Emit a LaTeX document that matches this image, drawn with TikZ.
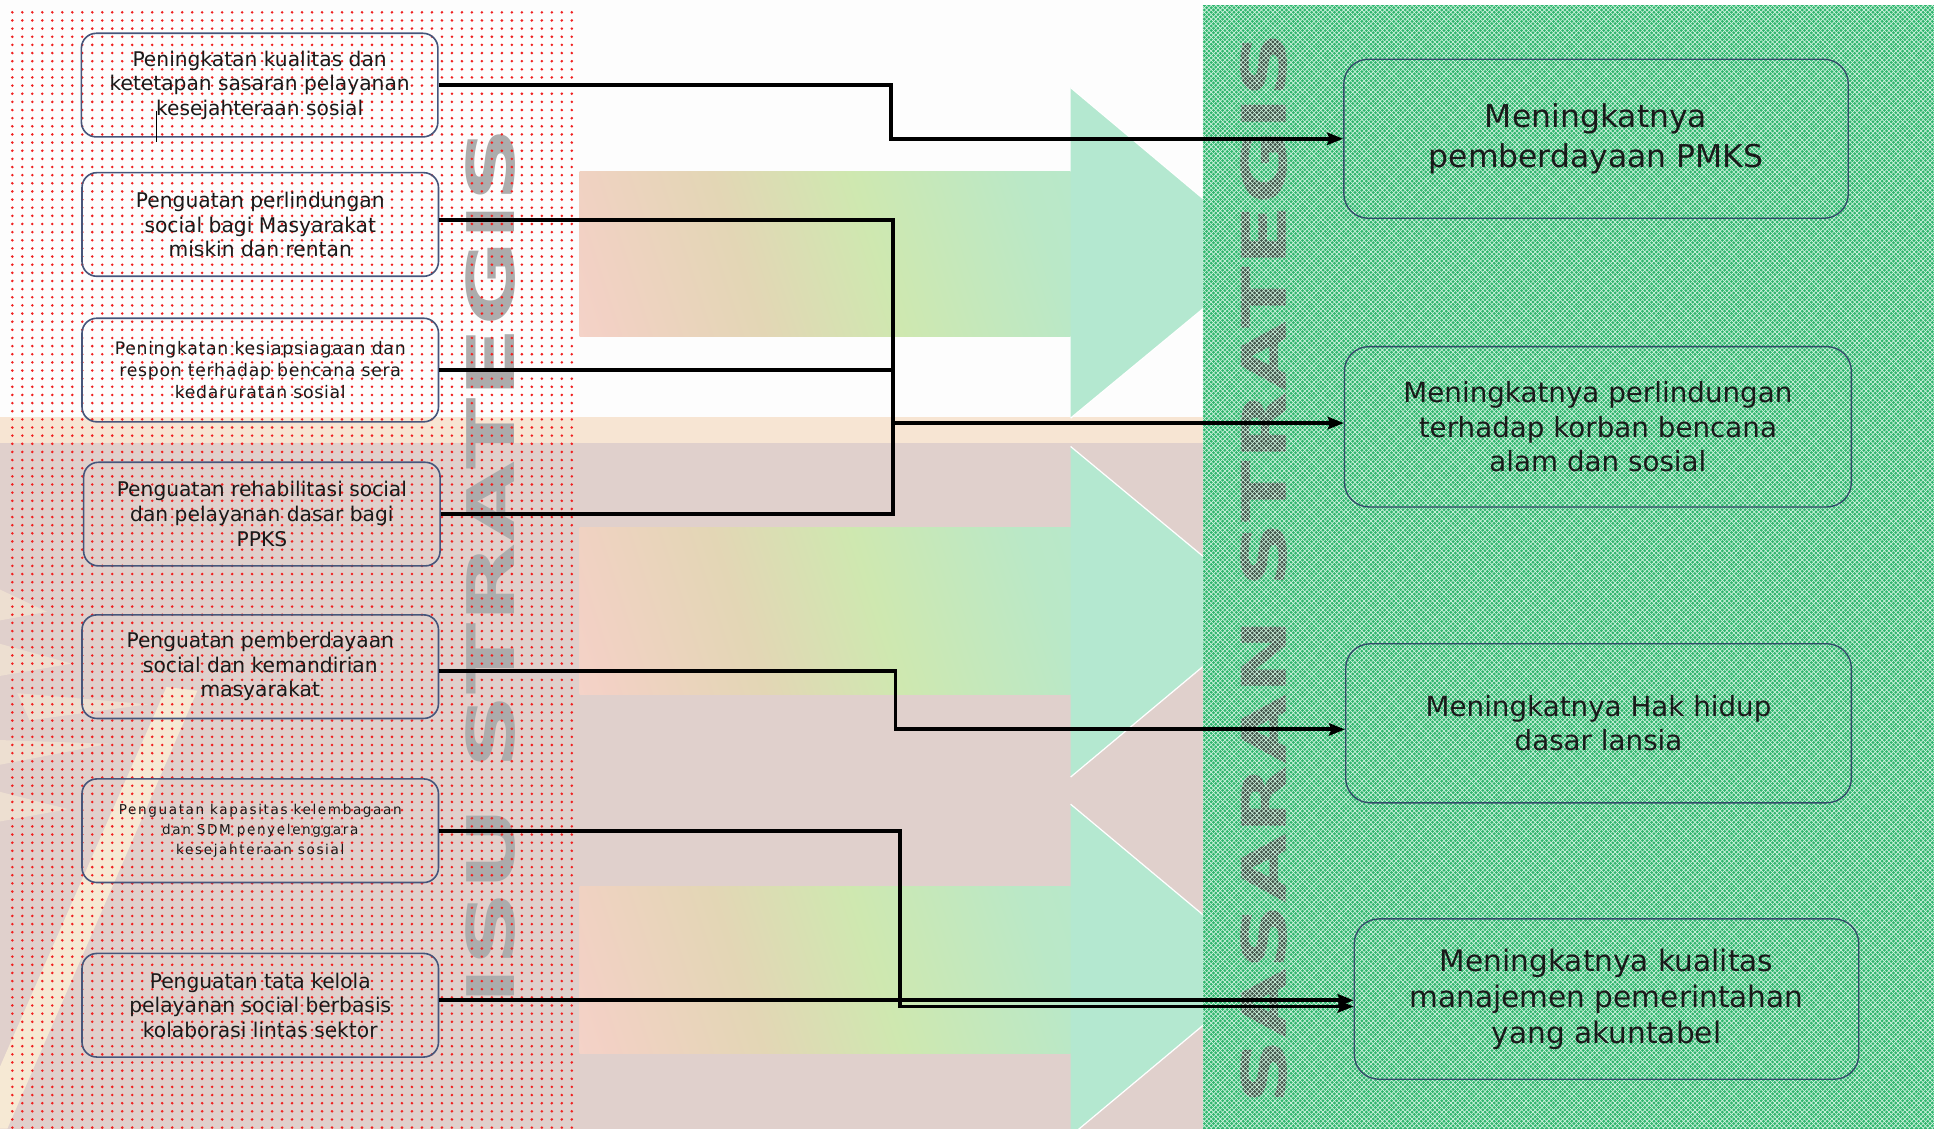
\documentclass[tikz,border=0pt]{standalone}
\usepackage{fontspec}
\setmainfont{DejaVu Sans}
\newfontfamily\spacedfontA{DejaVu Sans}[LetterSpace=4]
\newfontfamily\spacedfontB{DejaVu Sans}[LetterSpace=12]
\usetikzlibrary{arrows.meta,calc}

\definecolor{isublue}{RGB}{70,85,122}
\definecolor{goalblue}{RGB}{50,75,105}
\definecolor{txt}{RGB}{26,26,26}
\definecolor{topwhite}{RGB}{253,253,253}
\definecolor{peach}{RGB}{247,229,211}
\definecolor{greypink}{RGB}{224,208,204}
\definecolor{dotred}{RGB}{240,32,32}
\definecolor{isugrey}{RGB}{172,172,172}
\definecolor{greenbase}{RGB}{48,182,110}
\definecolor{greenlight}{RGB}{212,244,226}
\definecolor{sasgrey}{RGB}{62,84,72}
\definecolor{mint}{RGB}{180,232,208}
\definecolor{cream}{RGB}{251,238,214}

% left-to-right colour flow of the big block arrows
\pgfdeclarehorizontalshading{flowshade}{100bp}{%
  rgb(0bp)=(0.99,0.86,0.86); rgb(22bp)=(0.95,0.82,0.77);
  rgb(40bp)=(0.89,0.84,0.71); rgb(56bp)=(0.81,0.91,0.69);
  rgb(76bp)=(0.73,0.91,0.78); rgb(100bp)=(0.71,0.91,0.82)}

\begin{document}
\begin{tikzpicture}[x=1pt,y=-1pt,
  isubox/.style={draw=isublue, line width=1.3pt, rounded corners=12pt,
    minimum width=289pt, minimum height=84pt, inner sep=0pt, align=center,
    text=txt, font=\fontsize{16.4}{20}\selectfont},
  goalbox/.style={draw=goalblue, line width=1.1pt, rounded corners=20pt,
    minimum width=409pt, minimum height=129pt, inner sep=0pt, align=center,
    text=txt},
  conn/.style={line width=3.2pt, black},
  arr/.style={conn, -{Stealth[length=13pt,width=10pt,inset=2pt]}},
  headedge/.style={white, line width=1pt}
]
\useasboundingbox (0,0) rectangle (1568,915);
\clip (0,0) rectangle (1568,915);

% background bands
\fill[white] (0,0) rectangle (1568,915);
\fill[topwhite] (0,0) rectangle (975,338);
\fill[peach] (0,338) rectangle (975,359);
\fill[greypink] (0,359) rectangle (975,915);

% pale emblem watermark, lower left
\begin{scope}[fill=cream]
  \fill[opacity=0.85] (135,557) -- (160,560) -- (6,915) -- (-22,915) -- cycle;
  \begin{scope}[opacity=0.5]
    \fill (0,478) -- (38,496) -- (0,503) -- cycle;
    \fill (0,522) -- (58,538) -- (0,548) -- cycle;
    \fill (14,562) -- (120,571) -- (24,584) -- cycle;
    \fill (0,600) -- (88,603) -- (0,620) -- cycle;
    \fill (0,642) -- (55,656) -- (0,666) -- cycle;
  \end{scope}
\end{scope}

% block arrows
\shade[shading=flowshade, shading angle=18] (470,139) rectangle (868,273);
\fill[mint] (868,71) -- (1029,206) -- (868,339) -- cycle;
\draw[headedge] (868,71) -- (1029,206) -- (868,339);

\shade[shading=flowshade, shading angle=18] (470,428) rectangle (868,563);
\fill[mint] (868,362) -- (1029,495.5) -- (868,630) -- cycle;
\draw[headedge] (868,362) -- (1029,495.5) -- (868,630);

\shade[shading=flowshade, shading angle=18] (470,719) rectangle (868,854);
\fill[mint] (868,652) -- (1029,786.5) -- (868,921) -- cycle;
\draw[headedge] (868,652) -- (1029,786.5) -- (868,921);

% left column title and dot screen
\node[rotate=90, text=isugrey, inner sep=0pt] (isu) at (398,459)
  {\resizebox{712pt}{39.5pt}{\bfseries ISU STRATEGIS}};
\foreach \r in {0,...,137}{
  \fill[dotred] \foreach \c in {0,...,56}{ (10+8.1*\c, 10+6.6*\r) circle (1.15) };
}

% right column: green mesh with its title
\fill[greenbase] (975,4) rectangle (1568,915);
\node[rotate=90, text=sasgrey, inner sep=0pt] (sas) at (1024.5,460.5)
  {\resizebox{869pt}{37pt}{\bfseries SASARAN STRATEGIS}};
\begin{scope}
  \clip (975,4) rectangle (1568,915);
  \foreach \k in {0,...,410}{
    \draw[greenlight, line width=0.5pt] (64+3.7*\k,4) -- ++(911,911);
    \draw[greenlight, line width=0.5pt] (975+3.7*\k,4) -- ++(-911,911);
  }
\end{scope}

% strategic issues
\node[isubox] (b1) at (210.5,69)
  {Peningkatan kualitas dan\\ketetapan sasaran pelayanan\\kesejahteraan sosial};
\node[isubox] (b2) at (211,182)
  {Penguatan perlindungan\\social bagi Masyarakat\\miskin dan rentan};
\node[isubox, font=\spacedfontA\fontsize{14}{17.5}\selectfont] (b3) at (211,300)
  {Peningkatan kesiapsiagaan dan\\respon terhadap bencana sera\\kedaruratan sosial};
\node[isubox] (b4) at (212.3,416.8)
  {Penguatan rehabilitasi social\\dan pelayanan dasar bagi\\PPKS};
\node[isubox] (b5) at (211,540.5)
  {Penguatan pemberdayaan\\social dan kemandirian\\masyarakat};
\node[isubox, font=\spacedfontB\fontsize{11}{16}\selectfont] (b6) at (211,673.5)
  {Penguatan kapasitas kelembagaan\\dan SDM penyelenggara\\kesejahteraan sosial};
\node[isubox] (b7) at (211,815)
  {Penguatan tata kelola\\pelayanan social berbasis\\kolaborasi lintas sektor};

% strategic targets
\node[goalbox, font=\fontsize{25.5}{32}\selectfont] (r1) at (1294,112.5)
  {Meningkatnya\\pemberdayaan PMKS};
\node[goalbox, minimum width=411pt, minimum height=130pt,
      font=\fontsize{22.5}{28}\selectfont] (r2) at (1295.5,346)
  {Meningkatnya perlindungan\\terhadap korban bencana\\alam dan sosial};
\node[goalbox, minimum width=410pt, font=\fontsize{22.5}{28}\selectfont] (r3) at (1296,586.4)
  {Meningkatnya Hak hidup\\dasar lansia};
\node[goalbox, minimum height=130pt, font=\fontsize{24}{29}\selectfont] (r4) at (1302.5,810)
  {Meningkatnya kualitas\\manajemen pemerintahan\\yang akuntabel};

% routing columns of the connectors
\coordinate (j1) at (722,0);
\coordinate (j2) at (724,0);
\coordinate (j3) at (726,0);
\coordinate (j4) at (730,0);
\coordinate (r2in) at ([yshift=3pt]r2.west);
\coordinate (r3in) at ([yshift=-5pt]r3.west);
\coordinate (r4in) at ([yshift=-6pt]r4.west);
\coordinate (b2out) at ([yshift=4pt]b2.east);
\coordinate (b5out) at ([yshift=-3.5pt]b5.east);
\coordinate (b7out) at ([yshift=4pt]b7.east);

\draw[arr] (b1.east) -| (j1 |- r1.west) -- (r1.west);
\draw[conn] (b2out) -| (j2 |- r2in);
\draw[conn] (b3.east) -| (j2 |- r2in);
\draw[conn] (b4.east) -| (j2 |- r2in);
\draw[arr] (j2 |- r2in) -- (r2in);
\draw[arr] (b5out) -| (j3 |- r3in) -- (r3in);
\draw[arr] (b6.east) -| (j4 |- r4in) -- (r4in);
\draw[arr] (b7out) -- (b7out -| r4.west);

% stray text cursor inside the first box
\draw[black, line width=0.8pt] (127,90) -- (127,115);
\end{tikzpicture}
\end{document}
